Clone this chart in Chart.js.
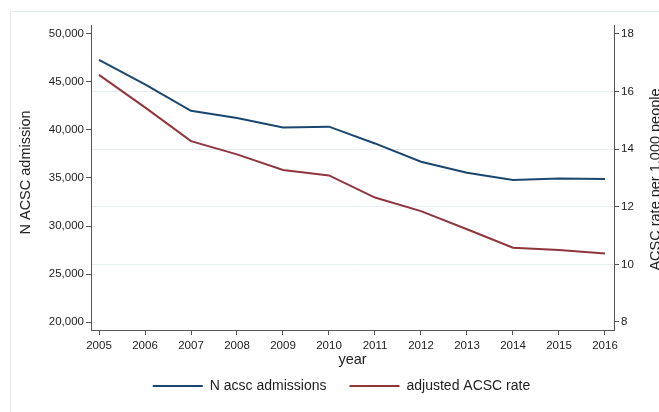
<!DOCTYPE html>
<html>
<head>
<meta charset="utf-8">
<script src="https://cdn.jsdelivr.net/npm/chart.js@4"></script>
<style>
  html, body { margin: 0; padding: 0; background: #fff; }
  #wrap { width: 659px; height: 412px; }
</style>
</head>
<body>
<div id="wrap"><canvas id="chart" width="659" height="412"></canvas></div>
<script>
// Данные
const years = [2005, 2006, 2007, 2008, 2009, 2010, 2011, 2012, 2013, 2014, 2015, 2016];
const admissions = [47300, 44750, 42000, 41250, 40250, 40350, 38600, 36700, 35550, 34800, 34950, 34900];
const rates = [16.58, 15.45, 14.28, 13.82, 13.28, 13.09, 12.32, 11.85, 11.22, 10.58, 10.5, 10.38];

const leftTicks = [20000, 25000, 30000, 35000, 40000, 45000, 50000];
const rightTicks = [8, 10, 12, 14, 16, 18];

const seriesNames = ['N acsc admissions', 'adjusted ACSC rate'];
const leftTitle = 'N ACSC admission';
const rightTitle = 'ACSC rate per 1,000 people';
const xTitle = 'year';

const FONT = '"Liberation Sans", Arial, sans-serif';
const axisColor = '#555';
const textColor = '#222';
const gridColor = '#e6eeef';

// вертикальная подпись
function vText(ctx, text, x, y) {
  ctx.save();
  ctx.translate(x, y);
  ctx.rotate(-Math.PI / 2);
  ctx.font = '14.5px ' + FONT;
  ctx.fillStyle = textColor;
  ctx.textAlign = 'center';
  ctx.textBaseline = 'middle';
  ctx.fillText(text, 0, 0);
  ctx.restore();
}

// рамка графика и подписи осей Y
const framePlugin = {
  id: 'frame',
  beforeDraw(chart) {
    const ctx = chart.ctx;
    ctx.save();
    ctx.strokeStyle = '#e3ecee';
    ctx.lineWidth = 1;
    ctx.strokeRect(10.5, 11.5, 700, 500);
    ctx.restore();
  },
  afterDraw(chart) {
    const area = chart.chartArea;
    const mid = (area.top + area.bottom) / 2;
    vText(chart.ctx, leftTitle, 26, mid - 5);
    vText(chart.ctx, rightTitle, 656, mid + 2);
  }
};

// сдвиг легенды вправо, как в оригинале
const legendShift = {
  id: 'legendShift',
  afterLayout(chart) {
    if (chart.legend) {
      chart.legend.left += 12;
      chart.legend.right += 12;
    }
  }
};

new Chart(document.getElementById('chart'), {
  type: 'line',
  data: {
    datasets: [
      {
        label: seriesNames[0],
        data: years.map((y, i) => ({ x: y, y: admissions[i] })),
        borderColor: '#1a476f',
        backgroundColor: '#1a476f',
        borderWidth: 2,
        pointRadius: 0,
        tension: 0,
        yAxisID: 'yN'
      },
      {
        label: seriesNames[1],
        data: years.map((y, i) => ({ x: y, y: rates[i] })),
        borderColor: '#90353b',
        backgroundColor: '#90353b',
        borderWidth: 2,
        pointRadius: 0,
        tension: 0,
        yAxisID: 'yR'
      }
    ]
  },
  options: {
    responsive: false,
    animation: false,
    layout: { padding: { top: 25, bottom: 9, left: 0, right: 0 } },
    plugins: {
      tooltip: { enabled: false },
      legend: {
        position: 'bottom',
        labels: {
          usePointStyle: true,
          pointStyle: 'line',
          pointStyleWidth: 50,
          padding: 23,
          color: textColor,
          font: { family: FONT, size: 14 }
        }
      }
    },
    scales: {
      x: {
        type: 'linear',
        min: 2004.826,
        max: 2016.196,
        afterBuildTicks(scale) { scale.ticks = years.map(v => ({ value: v })); },
        afterFit(scale) { scale.height = 26; },
        ticks: {
          padding: 4,
          color: textColor,
          font: { family: FONT, size: 11.5 },
          maxRotation: 0,
          autoSkip: false,
          callback: v => String(v)
        },
        grid: { drawOnChartArea: false, drawTicks: true, tickLength: 5, tickColor: axisColor },
        border: { color: axisColor, width: 1 },
        title: {
          display: true,
          text: xTitle,
          color: textColor,
          font: { family: FONT, size: 14.5 },
          padding: { top: 0, bottom: -13 }
        }
      },
      yN: {
        position: 'left',
        min: 19167,
        max: 50937,
        afterBuildTicks(scale) { scale.ticks = leftTicks.map(v => ({ value: v })); },
        afterFit(scale) { scale.width = 91; },
        ticks: {
          padding: 2,
          color: textColor,
          font: { family: FONT, size: 11.5 },
          callback: v => v.toLocaleString('en-US')
        },
        grid: { drawOnChartArea: false, drawTicks: true, tickLength: 5, tickColor: axisColor },
        border: { color: axisColor, width: 1 }
      },
      yR: {
        position: 'right',
        min: 7.722,
        max: 18.3125,
        afterBuildTicks(scale) { scale.ticks = rightTicks.map(v => ({ value: v })); },
        afterFit(scale) { scale.width = 45; },
        ticks: {
          padding: 2,
          color: textColor,
          font: { family: FONT, size: 11.5 },
          callback: v => String(v)
        },
        grid: {
          drawOnChartArea: true,
          drawTicks: true,
          tickLength: 5,
          tickColor: axisColor,
          color: c => (c.tick && (c.tick.value === 18 || c.tick.value === 8)) ? 'rgba(0,0,0,0)' : gridColor
        },
        border: { color: axisColor, width: 1 }
      }
    }
  },
  plugins: [framePlugin, legendShift]
});
</script>
</body>
</html>
